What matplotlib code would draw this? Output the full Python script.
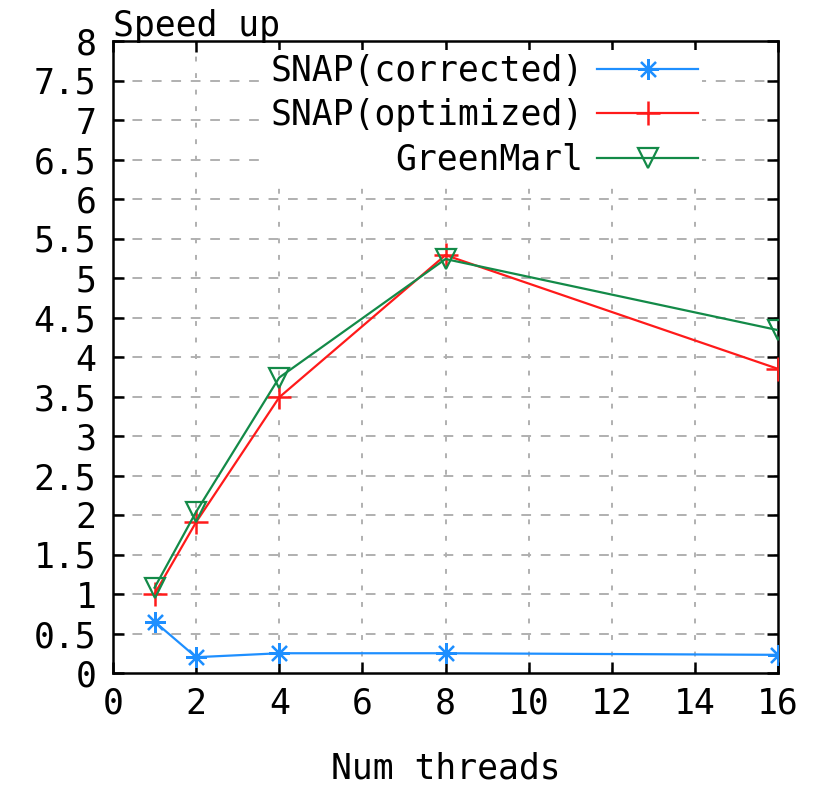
import numpy as np
import matplotlib
matplotlib.use("Agg")
import matplotlib.pyplot as plt

# --- Data ---
threads = [1, 2, 4, 8, 16]
snap_corrected = [0.65, 0.20, 0.25, 0.25, 0.23]
snap_optimized = [1.00, 1.91, 3.49, 5.29, 3.85]
greenmarl = [1.08, 2.04, 3.74, 5.24, 4.34]

labels = ["SNAP(corrected)", "SNAP(optimized)", "GreenMarl"]
colors = ["#1e8fff", "#ff1a1a", "#138a48"]

x_ticks = np.arange(0, 17, 2)
y_ticks = np.arange(0, 8.01, 0.5)
y_ticklabels = ["0", "0.5", "1", "1.5", "2", "2.5", "3", "3.5", "4",
                "4.5", "5", "5.5", "6", "6.5", "7", "7.5", "8"]

plt.rcParams["font.family"] = ["DejaVu Sans Mono"]
FS = 25

fig = plt.figure(figsize=(8.14, 8.0), dpi=100)
ax = fig.add_axes([113 / 814, 1 - 673 / 800, 665 / 814, 632 / 800])

# series
ax.plot(threads, snap_corrected, color=colors[0], lw=1.6,
        marker=(8, 2, 0), ms=15, mew=1.6, label=labels[0], zorder=3)
ax.plot(threads, snap_optimized, color=colors[1], lw=1.6,
        marker="+", ms=17, mew=1.8, label=labels[1], zorder=3)
ax.plot(threads, greenmarl, color=colors[2], lw=1.6,
        marker="v", ms=15, mew=1.6, mfc="none", label=labels[2], zorder=3)

ax.set_xlim(0, 16)
ax.set_ylim(0, 8)
ax.set_xticks(x_ticks)
ax.set_yticks(y_ticks)
ax.set_yticklabels(y_ticklabels)
ax.tick_params(direction="in", length=8, width=1.8, labelsize=FS,
               top=True, right=True, pad=12)
ax.tick_params(axis="x", pad=10)

# gnuplot style grid
for yv in y_ticks[1:-1]:
    ax.axhline(yv, color="#b0b0b0", lw=1.4, ls=(0, (5, 5)), zorder=1)
for xv in x_ticks[1:-1]:
    ax.axvline(xv, color="#b0b0b0", lw=1.4, ls=(0, (2.5, 6)), zorder=1)

for sp in ax.spines.values():
    sp.set_linewidth(1.8)

ax.text(0.0, 1.008, "Speed up", transform=ax.transAxes, fontsize=FS,
        ha="left", va="baseline")
ax.set_xlabel("Num threads", fontsize=FS, labelpad=22)

leg = ax.legend(loc="upper right", bbox_to_anchor=(0.885, 0.985),
                markerfirst=False, frameon=True, fontsize=FS,
                handlelength=2.9, handletextpad=0.4, labelspacing=0.3,
                borderaxespad=0, borderpad=0.1, fancybox=False)
leg.get_frame().set_edgecolor("none")
leg.get_frame().set_facecolor("white")
leg.get_frame().set_alpha(1)

fig.savefig("out.png", dpi=100, facecolor="white")
